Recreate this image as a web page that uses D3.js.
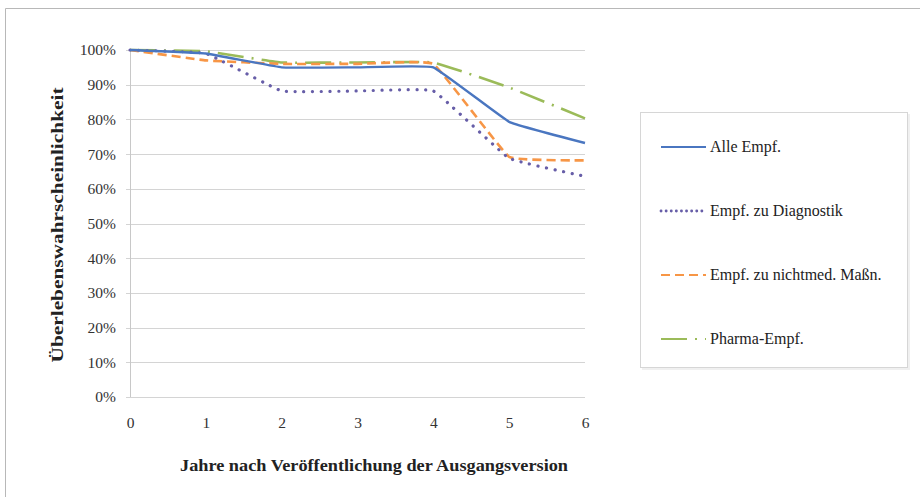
<!DOCTYPE html>
<html>
<head>
<meta charset="utf-8">
<script src="https://cdn.jsdelivr.net/npm/d3@7"></script>
<style>
  html, body { margin: 0; padding: 0; background: #fff; }
  svg { display: block; }
</style>
</head>
<body>
<svg id="chart" width="920" height="497"></svg>
<script>
// Years since publication of the baseline version
const years = [0, 1, 2, 3, 4, 5, 6];

// Survival probability (%) per recommendation group
const alleEmpf       = [100, 99, 95, 95, 95, 79.3, 73.2];
const empfDiagnostik = [100, 99, 88.2, 88.2, 88.2, 68.8, 63.6];
const empfNichtmed   = [100, 97, 96, 96, 96, 69.2, 68.2];
const pharmaEmpf     = [100, 99.6, 96.4, 96.4, 96.4, 89.2, 80.3];

const seriesNames = ["Alle Empf.", "Empf. zu Diagnostik", "Empf. zu nichtmed. Maßn.", "Pharma-Empf."];
const yTicks = [0, 10, 20, 30, 40, 50, 60, 70, 80, 90, 100];

const series = [
  { name: seriesNames[0], values: alleEmpf,       color: "#4a76c0", dash: null,       width: 2.4, cap: "butt" },
  { name: seriesNames[1], values: empfDiagnostik, color: "#675ea8", dash: "0.1 8.6",  width: 3.2, cap: "round" },
  { name: seriesNames[2], values: empfNichtmed,   color: "#f79646", dash: "9 5",      width: 2.6, cap: "butt" },
  { name: seriesNames[3], values: pharmaEmpf,     color: "#9bbb59", dash: "26 8 2 8", width: 2.6, cap: "butt" }
];

const svg = d3.select("#chart");
const serif = "'Liberation Serif', 'DejaVu Serif', serif";

// outer frame
svg.append("path")
  .attr("d", "M5.5,497 L5.5,8.5 L920,8.5")
  .attr("fill", "none").attr("stroke", "#b8b8b8").attr("stroke-width", 1);

const x = d3.scaleLinear().domain([0, 6]).range([130, 585]);
const y = d3.scaleLinear().domain([0, 100]).range([397, 50]);

// horizontal gridlines
svg.append("g")
  .selectAll("line").data(yTicks).join("line")
  .attr("x1", x(0) - 4).attr("x2", x(6))
  .attr("y1", d => Math.round(y(d)) + 0.5).attr("y2", d => Math.round(y(d)) + 0.5)
  .attr("stroke", "#d4d4d4").attr("stroke-width", 1);

// y axis line
svg.append("line")
  .attr("x1", x(0) + 0.5).attr("x2", x(0) + 0.5)
  .attr("y1", y(100)).attr("y2", y(0))
  .attr("stroke", "#c8c8c8");

// y tick labels
const yAxis = d3.axisLeft(y).tickValues(yTicks).tickFormat(d => d + "%").tickSize(0).tickPadding(14);
const gy = svg.append("g").attr("transform", `translate(${x(0)},0)`).call(yAxis);
gy.select(".domain").remove();
gy.selectAll("text").attr("font-family", serif).attr("font-size", 15.5).attr("fill", "#333");

// x tick labels
const xAxis = d3.axisBottom(x).tickValues(years).tickFormat(d3.format("d")).tickSize(0).tickPadding(20);
const gx = svg.append("g").attr("transform", `translate(0,${y(0)})`).call(xAxis);
gx.select(".domain").remove();
gx.selectAll("text").attr("font-family", serif).attr("font-size", 15.5).attr("fill", "#333");

// axis titles
svg.append("text")
  .attr("x", 374).attr("y", 471)
  .attr("text-anchor", "middle")
  .attr("font-family", serif).attr("font-weight", "bold").attr("font-size", 17)
  .attr("textLength", 388).attr("lengthAdjust", "spacingAndGlyphs")
  .attr("fill", "#222")
  .text("Jahre nach Veröffentlichung der Ausgangsversion");

svg.append("text")
  .attr("transform", `translate(63,225) rotate(-90)`)
  .attr("text-anchor", "middle")
  .attr("font-family", serif).attr("font-weight", "bold").attr("font-size", 17)
  .attr("textLength", 275).attr("lengthAdjust", "spacingAndGlyphs")
  .attr("fill", "#222")
  .text("Überlebenswahrscheinlichkeit");

// series lines (lightly smoothed)
const line = d3.line()
  .x((d, i) => x(years[i]))
  .y(d => y(d))
  .curve(d3.curveCardinal.tension(0.75));

svg.append("g").selectAll("path").data(series.slice().reverse()).join("path")
  .attr("d", d => line(d.values))
  .attr("fill", "none")
  .attr("stroke", d => d.color)
  .attr("stroke-width", d => d.width)
  .attr("stroke-dasharray", d => d.dash)
  .attr("stroke-linecap", d => d.cap)
  .attr("stroke-linejoin", "round");

// legend
const lg = svg.append("g");
lg.append("rect")
  .attr("x", 642).attr("y", 114).attr("width", 268).attr("height", 256)
  .attr("fill", "#e6e6e6").attr("opacity", 0.6);
lg.append("rect")
  .attr("x", 640.5).attr("y", 112.5).attr("width", 267).attr("height", 255)
  .attr("fill", "#fff").attr("stroke", "#d6d6d6");

const rowY = d3.scalePoint().domain(seriesNames).range([147, 339]);
const items = lg.selectAll("g.item").data(series).join("g")
  .attr("class", "item")
  .attr("transform", d => `translate(0,${rowY(d.name)})`);
items.append("line")
  .attr("x1", 661).attr("x2", 706).attr("y1", 0).attr("y2", 0)
  .attr("stroke", d => d.color)
  .attr("stroke-width", d => d.width - 0.4)
  .attr("stroke-dasharray", d => d.name === seriesNames[1] ? "0.1 5" : d.dash)
  .attr("stroke-linecap", d => d.cap);
items.append("text")
  .attr("x", 710).attr("y", 5)
  .attr("font-family", serif).attr("font-size", 16).attr("fill", "#222")
  .text(d => d.name);
</script>
</body>
</html>
